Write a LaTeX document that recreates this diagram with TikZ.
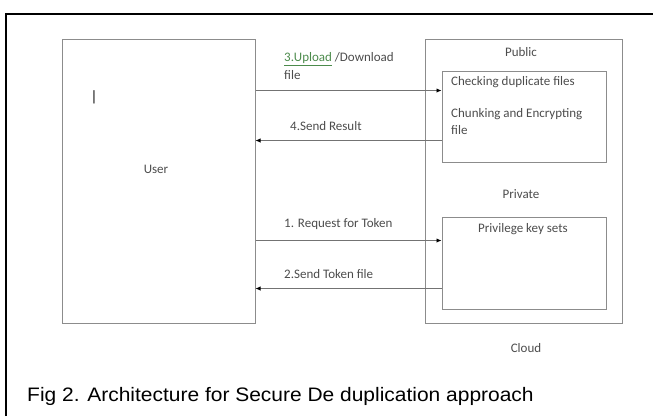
\documentclass[tikz,border=0pt]{standalone}
\usepackage{fontspec}
\setmainfont{Carlito}
\newfontfamily\capfont{Liberation Sans}
\usetikzlibrary{arrows.meta, positioning}

\begin{document}
\begin{tikzpicture}[
  x = 1pt, y = -1pt,
  box/.style   = {rectangle, draw=black!45, line width=1pt, inner sep=0pt},
  txt/.style   = {font=\fontsize{13}{17.5}\selectfont, text=black!70,
                  inner sep=0pt, align=left},
  arr/.style   = {-{Latex[length=5pt, width=4.5pt, color=black]}, line width=0.9pt, black!55},
  frame/.style = {line width=2pt, black}
]
\useasboundingbox (0,0) rectangle (653,416);

% ── Outer frame ──────────────────────────────────────────────────────────────
\draw[frame] (6,416) -- (6,14) -- (653,14);

% ── User side ────────────────────────────────────────────────────────────────
\node[box, minimum width=193pt, minimum height=284pt] (user) at (158.5,181) {};
\node[txt] (usr) at (156,169) {User};
\node[txt, font=\fontsize{15}{15}\selectfont, text=black] (cursor) at (94,97) {|};

% ── Cloud side ───────────────────────────────────────────────────────────────
\node[box, minimum width=197pt, minimum height=284pt] (cloud) at (523.5,181) {};
\node[box, minimum width=164pt, minimum height=91pt]  (pub)   at (524,116.5) {};
\node[box, minimum width=164pt, minimum height=92pt]  (priv)  at (524,263)   {};

\node[txt] (public)  at (521,52)  {Public};
\node[txt] (private) at (521,194) {Private};
\node[txt] (cld)     at (526,348) {Cloud};

\node[txt, anchor=west] (chk) at (451,82) {Checking duplicate files};
\node[txt, below=20pt of chk.south west, anchor=north west] (enc)
     {Chunking and Encrypting\\file};
\node[txt] (keys) at (523,229) {Privilege key sets};

% ── Arrows ───────────────────────────────────────────────────────────────────
\coordinate (upIn)   at ([yshift=-20pt]pub.north west);
\coordinate (resOut) at ([yshift=22pt]pub.south west);
\coordinate (reqIn)  at ([yshift=-24pt]priv.north west);
\coordinate (tokOut) at ([yshift=21pt]priv.south west);

\draw[arr] (user.east |- upIn) -- (upIn);
\draw[arr] (resOut) -- (user.east |- resOut);
\draw[arr] (user.east |- reqIn) -- (reqIn);
\draw[arr] (tokOut) -- (user.east |- tokOut);

% ── Arrow labels ─────────────────────────────────────────────────────────────
\node[txt, anchor=west] (lblUp) at (284,66)
     {\textcolor{green!35!black!70}{\underline{3.Upload}} /Download\\file};
\node[txt, anchor=west] (lblRes) at (290,126) {4.Send Result};
\node[txt, anchor=west] (lblReq) at (284,224) {1. Request for Token};
\node[txt, anchor=west] (lblTok) at (284,274) {2.Send Token file};

% ── Caption ──────────────────────────────────────────────────────────────────
\node[anchor=west, inner sep=0pt, font=\capfont\fontsize{19.5}{22}\selectfont,
      xscale=1.075, transform shape]
     (caption) at (27,396) {Fig 2. Architecture for Secure De duplication approach};
\end{tikzpicture}
\end{document}
